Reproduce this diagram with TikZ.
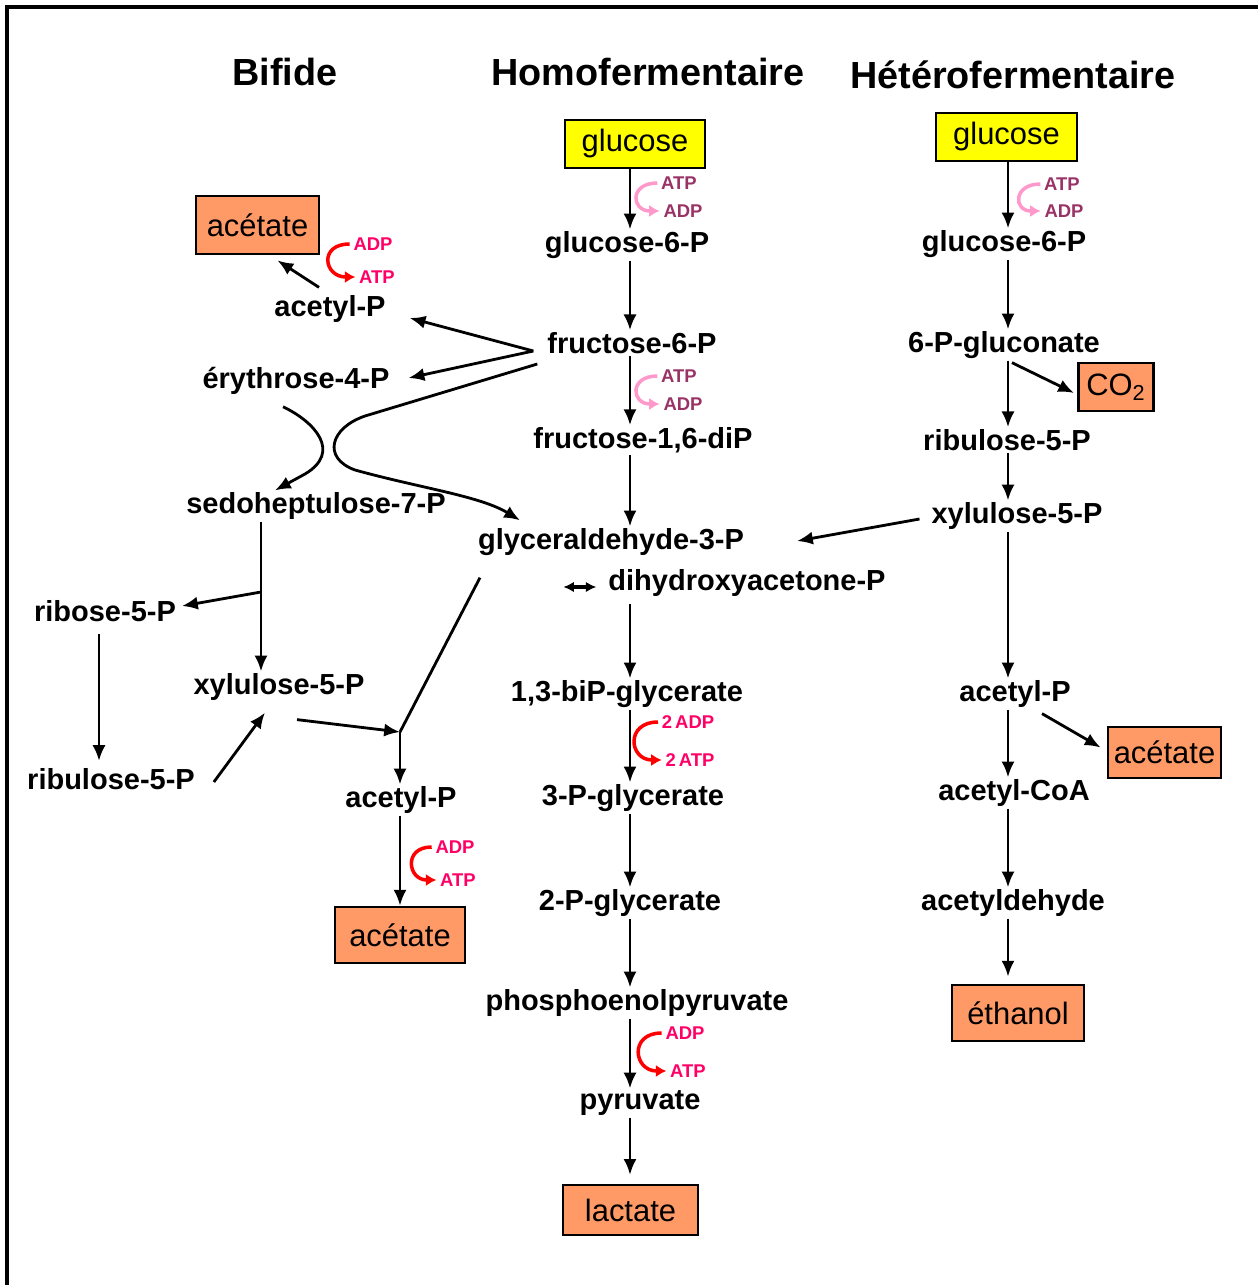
\documentclass[tikz,border=0pt]{standalone}
\usepackage{fontspec}
\setmainfont{Liberation Sans}
\usetikzlibrary{arrows.meta,calc}
\definecolor{boxorange}{HTML}{FF9966}
\definecolor{glyellow}{HTML}{FFFF00}
\definecolor{atppurple}{HTML}{993366}
\definecolor{atppink}{HTML}{FF99CC}
\definecolor{atpred}{HTML}{FF0066}
\definecolor{arrred}{HTML}{FF0000}
\tikzset{
 lbl/.style={font=\fontsize{16.5}{18}\selectfont\bfseries, inner sep=1pt},
 ttl/.style={font=\fontsize{21.5}{24}\selectfont\bfseries, inner sep=1pt},
 bxs/.style={draw, line width=1.6pt, font=\fontsize{17.6}{20}\selectfont, inner sep=0pt},
 obx/.style={bxs, fill=boxorange},
 ybx/.style={bxs, fill=glyellow},
 smlp/.style={font=\fontsize{10.5}{12}\selectfont\bfseries, inner sep=2pt, text=atppurple},
 smlr/.style={font=\fontsize{10.5}{12}\selectfont\bfseries, inner sep=2pt, text=atpred},
 arr/.style={line width=1.6pt, -{Latex[length=9pt,width=7.5pt]}},
 ln/.style={line width=1.6pt},
 dbl/.style={line width=1.8pt, {Latex[length=6pt,width=6pt]}-{Latex[length=6pt,width=6pt]}},
 pinkarr/.style={draw=atppink, line width=2pt, -{Latex[length=6pt,width=7pt]}},
 redarr/.style={draw=arrred, line width=2pt, -{Latex[length=6pt,width=7pt]}},
}
\begin{document}
\begin{tikzpicture}[x=0.02cm, y=-0.02cm]
\useasboundingbox (0,0) rectangle (1258,1285);
\fill[white] (0,0) rectangle (1258,1285);
\draw[line width=2pt] (7,1285) -- (7,7) -- (1258,7);

% titles
\node[ttl] (tbif) at (285,72) {Bifide};
\node[ttl] (thom) at (648,72) {Homofermentaire};
\node[ttl] (thet) at (1013,75) {Hétérofermentaire};

% axes
\coordinate (colH) at (630,0);
\coordinate (colR) at (1008,0);
\coordinate (colS) at (261,0);
\coordinate (colRb) at (99,0);
\coordinate (brS) at (261,592);
\coordinate (jL) at (400,732);

% homofermentaire
\node[ybx, minimum width=2.8cm, minimum height=0.96cm] (gluA) at (635,144) {glucose};
\node[lbl] (g6pA) at (627,245) {glucose-6-P};
\node[lbl] (f6p) at (632,343) {fructose-6-P};
\node[lbl] (fdp) at (643,440) {fructose-1,6-diP};
\node[lbl] (gap) at (611,542) {glyceraldehyde-3-P};
\node[lbl] (dhap) at (747,583) {dihydroxyacetone-P};
\node[lbl] (bpg) at (627,694) {1,3-biP-glycerate};
\node[lbl] (pg3) at (633,798) {3-P-glycerate};
\node[lbl] (pg2) at (630,903) {2-P-glycerate};
\node[lbl] (pep) at (637,1003) {phosphoenolpyruvate};
\node[lbl] (pyr) at (640,1103) {pyruvate};
\node[obx, minimum width=2.7cm, minimum height=1.0cm] (lac) at (630.5,1210) {lactate};

\node[smlp] (atp1) at (679,183) {ATP};
\node[smlp] (adp1) at (683,211) {ADP};
\node[smlp] (atp2) at (679,376) {ATP};
\node[smlp] (adp2) at (683,404) {ADP};
\node[smlr] (adp3) at (688,722) {2\,ADP};
\node[smlr] (atp3) at (690,760) {2\,ATP};
\node[smlr] (adp5) at (685,1033) {ADP};
\node[smlr] (atp5) at (688,1071) {ATP};

\draw[arr] (gluA.south -| colH) -- (g6pA.north -| colH);
\draw[arr] (g6pA.south -| colH) -- (f6p.north -| colH);
\draw[arr] (f6p.south -| colH) -- (fdp.north -| colH);
\draw[arr] (fdp.south -| colH) -- (gap.north -| colH);
\draw[dbl] ($(dhap.west)+(-43,4)$) -- ($(dhap.west)+(-10,4)$);
\draw[arr, shorten <=3pt] (dhap.south -| colH) -- (bpg.north -| colH);
\draw[arr] (bpg.south -| colH) -- (pg3.north -| colH);
\draw[arr] (pg3.south -| colH) -- (pg2.north -| colH);
\draw[arr] (pg2.south -| colH) -- (pep.north -| colH);
\draw[arr] (pep.south -| colH) -- (pyr.north -| colH);
\draw[arr, shorten >=5pt] (pyr.south -| colH) -- (lac.north -| colH);

\draw[pinkarr] (atp1.west) to[out=180,in=180,looseness=2.6] (adp1.west);
\draw[pinkarr] (atp2.west) to[out=180,in=180,looseness=2.6] (adp2.west);
\draw[redarr] (adp3.west) to[out=180,in=180,looseness=2.2] (atp3.west);
\draw[redarr] (adp5.west) to[out=180,in=180,looseness=2.2] (atp5.west);

% heterofermentaire
\node[ybx, minimum width=2.82cm, minimum height=0.96cm] (gluB) at (1006.5,137) {glucose};
\node[lbl] (g6pB) at (1004,244) {glucose-6-P};
\node[lbl] (gcn) at (1004,345) {6-P-gluconate};
\node[obx, minimum width=1.5cm, minimum height=0.96cm] (co2) at (1116,387) {CO\textsubscript{2}};
\node[lbl] (ru5B) at (1007,440) {ribulose-5-P};
\node[lbl] (xu5B) at (1017,516) {xylulose-5-P};
\node[lbl] (acpB) at (1015,694) {acetyl-P};
\node[obx, minimum width=2.26cm, minimum height=1.02cm] (acB) at (1164.5,752.5) {acétate};
\node[lbl] (acoa) at (1014,793) {acetyl-CoA};
\node[lbl] (acald) at (1013,903) {acetyldehyde};
\node[obx, minimum width=2.64cm, minimum height=1.12cm] (eth) at (1018,1013) {éthanol};

\node[smlp] (atp4) at (1062,184) {ATP};
\node[smlp] (adp4) at (1064,211) {ADP};
\draw[pinkarr] (atp4.west) to[out=180,in=180,looseness=2.6] (adp4.west);

\draw[arr] (gluB.south -| colR) -- (g6pB.north -| colR);
\draw[arr] (g6pB.south -| colR) -- (gcn.north -| colR);
\draw[arr] (gcn.south -| colR) -- (ru5B.north -| colR);
\draw[arr] ($(gcn.south -| colR)+(4,2)$) -- ($(co2.west)+(-3,6)$);
\draw[arr] (ru5B.south -| colR) -- (xu5B.north -| colR);
\draw[arr] ($(xu5B.west)+(-10,3)$) -- ($(gap.east)+(51,-1)$);
\draw[arr] (xu5B.south -| colR) -- (acpB.north -| colR);
\draw[arr] (acpB.south -| colR) -- (acoa.north -| colR);
\draw[arr] ($(acpB.south)+(27,4)$) -- ($(acB.west)+(-6,-5)$);
\draw[arr] (acoa.south -| colR) -- (acald.north -| colR);
\draw[arr, shorten >=4pt] (acald.south -| colR) -- (eth.north -| colR);

% bifide
\node[obx, minimum width=2.46cm, minimum height=1.16cm] (acT) at (257.5,225) {acétate};
\node[lbl] (acpT) at (330,309) {acetyl-P};
\node[lbl] (e4p) at (296,381) {érythrose-4-P};
\node[lbl] (s7p) at (316,506) {sedoheptulose-7-P};
\node[lbl] (r5p) at (105,611) {ribose-5-P};
\node[lbl] (xu5) at (279,687) {xylulose-5-P};
\node[lbl] (ru5) at (111,779) {ribulose-5-P};
\node[lbl] (acpL) at (401,800) {acetyl-P};
\node[obx, minimum width=2.6cm, minimum height=1.12cm] (acL) at (400,935) {acétate};

\node[smlr] (adp6) at (373,244) {ADP};
\node[smlr] (atp6) at (377,277) {ATP};
\node[smlr] (adp7) at (455,847) {ADP};
\node[smlr] (atp7) at (458,880) {ATP};
\draw[redarr] (adp6.west) to[out=180,in=180,looseness=2.4] (atp6.west);
\draw[redarr] (adp7.west) to[out=180,in=180,looseness=2.2] (atp7.west);

\coordinate (fs) at ($(f6p.west)+(-12,8)$);
\draw[arr] ($(acpT.north)+(-11,-6)$) -- ($(acT.south)+(20,5)$);
\draw[arr] (fs) -- ($(acpT.east)+(22,9)$);
\draw[arr] (fs) -- ($(e4p.east)+(17,-3)$);
\draw[arr] ($(f6p.west)+(-8,21)$) -- (365,416) .. controls (330,428) and (322,458) .. (355,470) .. controls (420,488) and (480,496) .. ($(gap.north west)+(44,-6)$);
\draw[arr] ($(e4p.south)+(-13,10)$) .. controls (315,422) and (342,452) .. (305,474) -- ($(s7p.north)+(-41,0)$);
\draw[arr] (s7p.south -| colS) -- (xu5.north -| colS);
\draw[arr] (brS) -- ($(r5p.east)+(4,-5)$);
\draw[arr, shorten <=6pt, shorten >=3pt] (r5p.south -| colRb) -- (ru5.north -| colRb);
\draw[arr] ($(ru5.east)+(17,3)$) -- ($(xu5.south)+(-14,10)$);
\draw[ln] ($(gap.south west)+(4,20)$) -- (jL);
\draw[arr] ($(xu5.south)+(18,17)$) -- (jL);
\draw[arr] (jL) -- (acpL.north -| jL);
\draw[arr] (acpL.south -| acL) -- (acL.north);
\end{tikzpicture}
\end{document}
